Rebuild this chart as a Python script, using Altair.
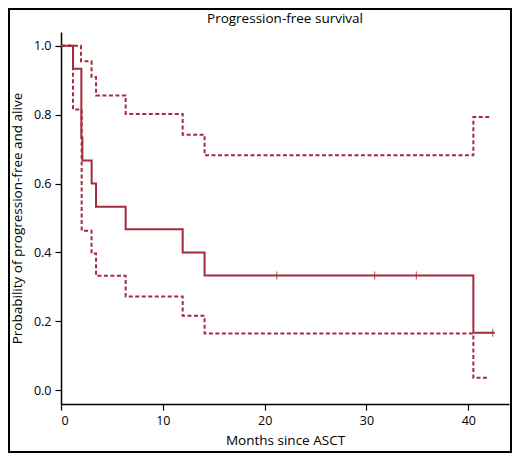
import altair as alt
import pandas as pd

# Kaplan-Meier estimate (step-after), months since ASCT
km_time = [0, 1.18, 2.0, 2.1, 3.01, 3.44, 6.35, 11.95, 14.1, 40.5, 42.6]
km_surv = [1.0, 0.933, 0.733, 0.667, 0.6, 0.533, 0.467, 0.4, 0.333, 0.167, 0.167]

# 95% confidence band
upper_time = [0, 1.96, 3.0, 3.44, 6.35, 11.95, 14.1, 40.5, 42.3]
upper_surv = [1.0, 0.955, 0.909, 0.856, 0.802, 0.742, 0.682, 0.793, 0.793]
lower_time = [0, 1.18, 2.03, 3.0, 3.44, 6.35, 11.95, 14.1, 40.5, 42.0]
lower_surv = [1.0, 0.815, 0.463, 0.397, 0.332, 0.272, 0.216, 0.165, 0.036, 0.036]

# censored observations
cens_time = [21.2, 30.8, 34.9, 42.4]
cens_surv = [0.333, 0.333, 0.333, 0.167]

title_text = ['Progression-free survival']

RED = '#A52A3F'
FONT = 'Open Sans'

x_scale = alt.Scale(domain=[0, 44], nice=False, zero=False)
y_scale = alt.Scale(domain=[-0.04, 1.04], nice=False, zero=False)

x_enc = alt.X('t:Q', scale=x_scale, title='Months since ASCT',
              axis=alt.Axis(values=[0, 10, 20, 30, 40], grid=False, titlePadding=7))
y_enc = alt.Y('s:Q', scale=y_scale, title='Probability of progression-free and alive',
              axis=alt.Axis(values=[0, 0.2, 0.4, 0.6, 0.8, 1.0], format='.1f',
                            grid=False, titlePadding=9))

km = alt.Chart(pd.DataFrame({'t': km_time, 's': km_surv})).mark_line(
    interpolate='step-after', color=RED, strokeWidth=2
).encode(x=x_enc, y=y_enc)

upper = alt.Chart(pd.DataFrame({'t': upper_time, 's': upper_surv})).mark_line(
    interpolate='step-after', color=RED, strokeWidth=2, strokeDash=[4, 2.5]
).encode(x='t:Q', y='s:Q')

lower = alt.Chart(pd.DataFrame({'t': lower_time, 's': lower_surv})).mark_line(
    interpolate='step-after', color=RED, strokeWidth=2, strokeDash=[4, 2.5]
).encode(x='t:Q', y='s:Q')

censor = alt.Chart(pd.DataFrame({'t': cens_time, 's': cens_surv})).mark_tick(
    orient='vertical', color=RED, size=8, thickness=1.2
).encode(x='t:Q', y='s:Q')

# chart title, centred over the plot area
title = alt.Chart(pd.DataFrame({'label': title_text})).mark_text(
    font=FONT, fontSize=13.5, color='black', baseline='middle', align='center'
).encode(x=alt.value(224), y=alt.value(-13), text='label:N')

# outer frame around the whole figure
frame = alt.Chart(pd.DataFrame({'a': [0]})).mark_rect(
    fill=None, stroke='black', strokeWidth=2
).encode(x=alt.value(-52), x2=alt.value(450), y=alt.value(-23), y2=alt.value(420))

chart = alt.layer(lower, upper, km, censor, title, frame).properties(
    width=448,
    height=372,
    autosize=alt.AutoSizeParams(type='none'),
    padding={'left': 53, 'top': 24, 'right': 3, 'bottom': 49},
).configure_view(
    stroke=None
).configure_axis(
    domainColor='black', domainWidth=1.5, tickColor='black', tickWidth=1.2,
    tickSize=6, labelFont=FONT, labelFontSize=12.5, labelColor='black',
    titleFont=FONT, titleFontSize=13.5, titleFontWeight='normal', titleColor='black',
    labelPadding=4
)

chart.save('out.html', embed_options={'renderer': 'svg', 'actions': False})
